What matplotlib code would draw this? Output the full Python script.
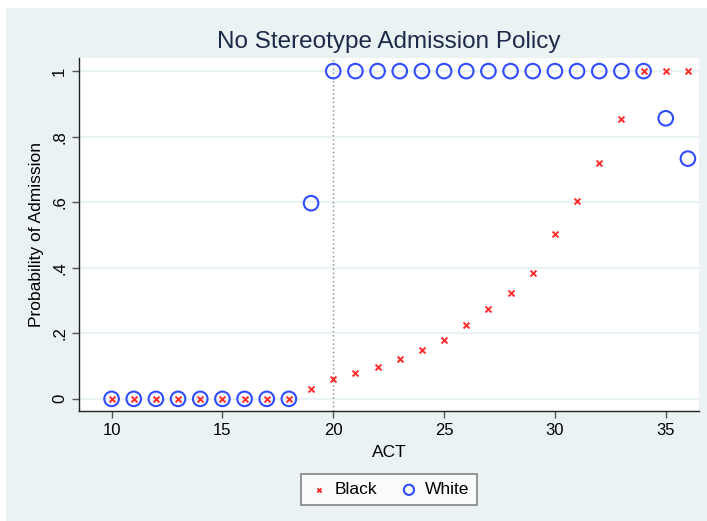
import matplotlib
matplotlib.use("Agg")
from matplotlib import pyplot as plt
from matplotlib.patches import Rectangle

plt.rcParams["font.family"] = ["Liberation Sans", "DejaVu Sans"]

act = list(range(10, 37))
black = [0, 0, 0, 0, 0, 0, 0, 0, 0,
         0.030, 0.060, 0.078, 0.097, 0.121, 0.148, 0.179, 0.224, 0.273,
         0.322, 0.383, 0.504, 0.605, 0.720, 0.853, 1, 1, 1]
white = [0, 0, 0, 0, 0, 0, 0, 0, 0,
         0.597, 1, 1, 1, 1, 1, 1, 1, 1,
         1, 1, 1, 1, 1, 1, 1, 0.856, 0.733]
cutoff = 20
y_ticks = [0, 0.2, 0.4, 0.6, 0.8, 1]
y_labels = ["0", ".2", ".4", ".6", ".8", "1"]
x_ticks = [10, 15, 20, 25, 30, 35]

bg = "#eaf2f3"
fig = plt.figure(figsize=(7.07, 5.21), dpi=100, facecolor=bg)
# white screenshot border on top and left
fig.patches.append(Rectangle((0, 1 - 8 / 521), 1, 8 / 521, transform=fig.transFigure,
                             facecolor="white", edgecolor="none", zorder=-1))
fig.patches.append(Rectangle((0, 0), 6 / 707, 1, transform=fig.transFigure,
                             facecolor="white", edgecolor="none", zorder=-1))

ax = fig.add_axes([79 / 707, 110 / 521, 620 / 707, 353 / 521])
ax.set_facecolor("white")

for y in y_ticks:
    ax.axhline(y, color=bg, lw=1.6, zorder=0)
ax.axvline(cutoff, color="#888888", lw=1, ls=(0, (1, 2)), zorder=1)

ax.scatter(act, black, marker="x", s=18, color="#ff2a2a", linewidths=1.4,
           label="Black", zorder=3)
ax.scatter(act, white, marker="o", s=110, facecolors="none", edgecolors="#2f4cff",
           linewidths=1.5, label="White", zorder=2)

ax.set_xlim(8.53, 36.5)
ax.set_ylim(-0.037, 1.04)
ax.set_xticks(x_ticks)
ax.set_yticks(y_ticks)
ax.set_yticklabels(y_labels, rotation=90, va="center")
ax.tick_params(axis="both", labelsize=12, length=5, color="#555555", width=1)

for side in ["top", "right"]:
    ax.spines[side].set_visible(False)
for side in ["left", "bottom"]:
    ax.spines[side].set_color("#222222")
    ax.spines[side].set_linewidth(1)

ax.set_xlabel("ACT", fontsize=12.5, labelpad=5)
ax.set_ylabel("Probability of Admission", fontsize=12.5, labelpad=6)
ax.set_title("No Stereotype Admission Policy", fontsize=17.5, color="#1e2a4a", pad=7)

leg = ax.legend(loc="upper center", bbox_to_anchor=(0.5, -0.155), ncol=2,
                fontsize=12.5, frameon=True, fancybox=False, edgecolor="#666666",
                handletextpad=0.3, columnspacing=1.2, borderpad=0.45,
                handlelength=1.2, markerscale=0.7)
leg.get_frame().set_linewidth(1.2)

fig.savefig("out.png", dpi=100, facecolor=bg)
